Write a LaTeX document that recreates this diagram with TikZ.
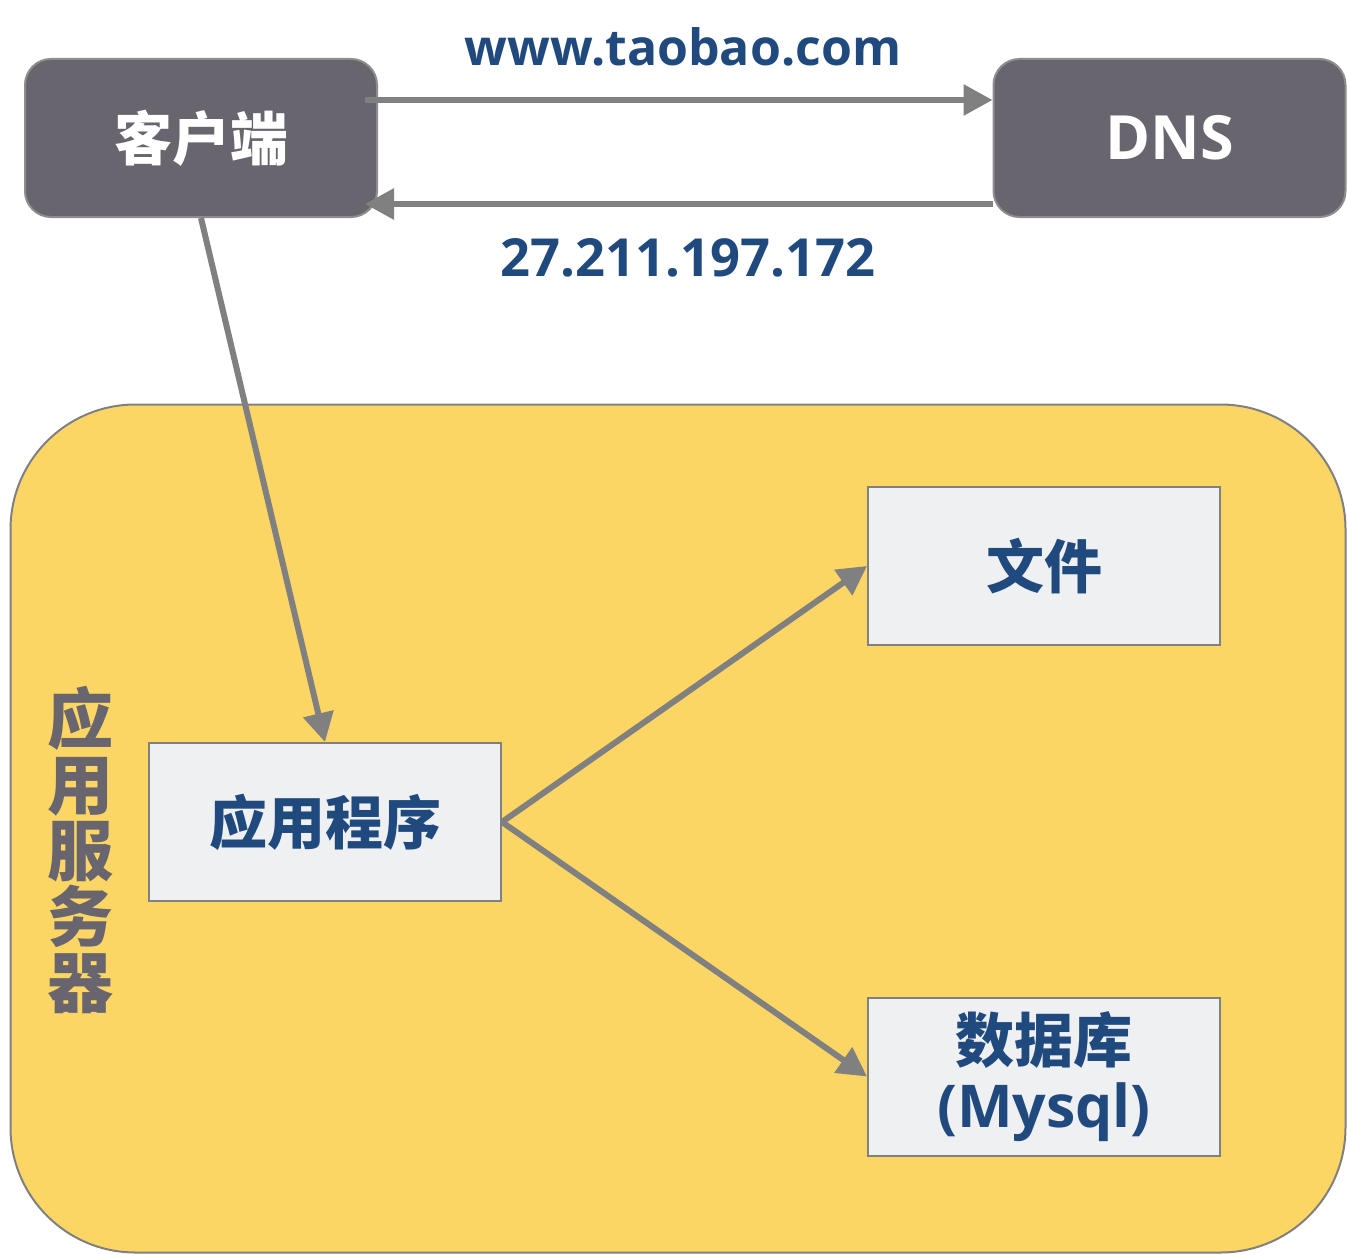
\documentclass[tikz,border=0pt]{standalone}
\usepackage{fontspec}
\setmainfont{Open Sans}
\newfontfamily\cjk{Noto Sans CJK SC}
\usetikzlibrary{arrows.meta}

\definecolor{boxdark}{HTML}{69656F}
\definecolor{srvyellow}{HTML}{FCD664}
\definecolor{txtblue}{HTML}{204A7E}
\definecolor{boxlight}{HTML}{EFF0F2}
\definecolor{linegray}{HTML}{808080}

\newcommand{\fsz}[1]{\fontsize{#1}{#1}\selectfont}

\tikzset{
  darkbox/.style={draw=linegray!90, line width=2pt, fill=boxdark, rounded corners=26pt,
    minimum width=352pt, minimum height=158pt, text=white, font=\cjk\bfseries\fsz{58}},
  lightbox/.style={draw=linegray, line width=2pt, fill=boxlight,
    minimum width=352pt, minimum height=158pt, text=txtblue, align=center},
  arr/.style={draw=linegray, line width=6pt, -{Triangle[length=29pt,width=30pt]}},
  lbl/.style={text=txtblue, font=\bfseries\fsz{50}},
}

\begin{document}
\begin{tikzpicture}[x=1pt, y=-1pt]
    \useasboundingbox (0, 0) rectangle (1347, 1255);

    \node [draw=linegray, line width=2pt, fill=srvyellow, rounded corners=125pt,
      minimum width=1335pt, minimum height=848pt] (server) at (678, 828.5) {};
    \node [text=boxdark, font=\cjk\bfseries\fsz{66}, align=center] (srvname) at (80, 850)
      {应\\用\\服\\务\\器};

    \node [darkbox] (client) at (201, 138) {客户端};
    \node [darkbox, font=\bfseries\fsz{61}] (dns) at (1169.5, 138) {DNS};

    \node [lightbox, font=\cjk\bfseries\fsz{58}] (app) at (325, 822) {应用程序};
    \node [lightbox, font=\cjk\bfseries\fsz{58}] (file) at (1044, 566) {文件};
    \node [lightbox, font=\bfseries\fsz{59}] (db) at (1044, 1076.5)
      {{\cjk 数据库}\\[6pt](Mysql)};

    \draw [arr] ([shift={(-13, 42)}]client.north east) -- ([shift={(0, 42)}]dns.north west);
    \draw [arr] ([shift={(0, -14)}]dns.south west) -- ([shift={(-13, -14)}]client.south east);
    \node [lbl] (url) at (683, 47) {www.taobao.com};
    \node [lbl, font=\bfseries\fsz{52.5}] (ip) at (688, 258) {27.211.197.172};

    \draw [arr] (client.south) -- (app.north);
    \draw [arr] (app.east) -- (file.west);
    \draw [arr] (app.east) -- (db.west);
\end{tikzpicture}
\end{document}
